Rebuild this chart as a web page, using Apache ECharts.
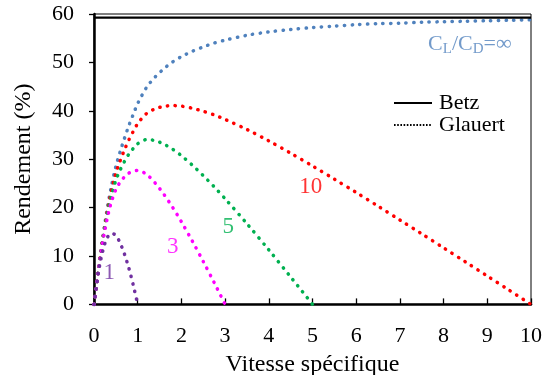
<!DOCTYPE html>
<html>
<head>
<meta charset="utf-8">
<script src="https://cdn.jsdelivr.net/npm/echarts@6/dist/echarts.min.js"></script>
<style>html,body{margin:0;padding:0;background:#fff;}#c{width:545px;height:375px;}</style>
</head>
<body>
<div id="c"></div>
<script>
// Tip speed ratio (x)
var lambda = [0, 0.05, 0.1, 0.15, 0.2, 0.25, 0.3, 0.35, 0.4, 0.5, 0.6, 0.7, 0.8, 0.9, 1.0, 1.2, 1.4, 1.6, 1.8, 2.0, 2.25, 2.5, 2.75, 3.0, 3.5, 4.0, 4.5, 5.0, 5.5, 6.0, 6.5, 7.0, 7.5, 8.0, 8.5, 9.0, 9.5, 10];
// Glauert efficiency (%) for each CL/CD
var glauertInf = [0, 3.5, 7.2, 10.6, 13.8, 16.8, 19.6, 22.2, 24.5, 28.5, 31.6, 34.4, 37.0, 39.3, 41.5, 44.8, 47.0, 48.7, 50.1, 51.2, 52.3, 53.2, 54.0, 54.6, 55.6, 56.3, 56.8, 57.2, 57.5, 57.8, 58.0, 58.1, 58.3, 58.4, 58.5, 58.6, 58.7, 58.8];
var glauert10 = [0, 3.48, 7.13, 10.44, 13.52, 16.38, 19.01, 21.42, 23.52, 27.08, 29.7, 31.99, 34.04, 35.76, 37.35, 39.42, 40.42, 40.91, 41.08, 40.96, 40.53, 39.9, 39.15, 38.22, 36.14, 33.78, 31.24, 28.6, 25.88, 23.12, 20.3, 17.43, 14.58, 11.68, 8.78, 5.86, 2.94, 0];
var glauert5 = [0, 3.47, 7.06, 10.28, 13.25, 15.96, 18.42, 20.65, 22.54, 25.65, 27.81, 29.58, 31.08, 32.23, 33.2, 34.05, 33.84, 33.12, 32.06, 30.72, 28.77, 26.6, 24.3, 21.84, 16.68, 11.26, 5.68, 0];
var glauert3 = [0, 3.44, 6.96, 10.07, 12.88, 15.4, 17.64, 19.61, 21.23, 23.75, 25.28, 26.37, 27.13, 27.51, 27.67, 26.88, 25.07, 22.73, 20.04, 17.07, 13.08, 8.87, 4.5, 0];
var glauert1 = [0, 3.33, 6.48, 9.01, 11.04, 12.6, 13.72, 14.43, 14.7, 14.25, 12.64, 10.32, 7.4, 3.93, 0];
// Betz limit (%)
var betzX = [0, 10];
var betzValue = 59.26;
// Axis ticks
var xTicks = [0, 1, 2, 3, 4, 5, 6, 7, 8, 9, 10];
var yTicks = [0, 10, 20, 30, 40, 50, 60];
// Curve labels
var labelX = [0.35, 1.8, 3.07, 4.96];
var labelY = [6.5, 11.9, 15.9, 24.3];
var labelText = ['1', '3', '5', '10'];
var infLabel = {x: 8.6, y: 53.8};

function pairs(xs, ys) { var r = []; for (var i = 0; i < ys.length; i++) r.push([xs[i], ys[i]]); return r; }

var SERIF = '"Liberation Serif","Times New Roman",serif';
var dotStyle = function (c) { return {color: c, width: 3.5, type: [0.3, 7.4], cap: 'round'}; };
var colors = {inf: '#4F81BD', c10: '#FF0000', c5: '#00B050', c3: '#FF00FF', c1: '#7030A0'};
var labelColors = [colors.c1, colors.c3, colors.c5, colors.c10];

function curve(name, ys, c) {
  return {name: name, type: 'line', data: pairs(lambda, ys), showSymbol: false, symbol: 'none', smooth: 0.3,
    lineStyle: dotStyle(c), itemStyle: {color: c}, silent: true, z: 3};
}

var labelData = labelText.map(function (t, i) {
  return {value: [labelX[i], labelY[i]], label: {show: true, formatter: t, color: labelColors[i], fontFamily: SERIF, fontSize: 23, position: 'inside'}};
});
labelData.push({value: [infLabel.x, infLabel.y], label: {show: true, position: 'inside',
  formatter: 'C{s|L}/C{s|D}=∞', color: colors.inf, fontFamily: SERIF, fontSize: 22,
  rich: {s: {fontSize: 15, color: colors.inf, fontFamily: SERIF, padding: [11, 0, 0, 0]}}}});

var chart = echarts.init(document.getElementById('c'), null, {renderer: 'canvas'});
chart.setOption({
  animation: false,
  backgroundColor: '#fff',
  grid: {left: 94, right: 14, top: 14, bottom: 70.6, show: true, borderColor: '#000', borderWidth: 1,
    containLabel: false, outerBoundsMode: 'none'},
  legend: {
    data: ['Betz', 'Glauert'], orient: 'vertical', left: 388, top: 87, itemWidth: 38, itemHeight: 12, itemGap: 0,
    itemStyle: {opacity: 0, color: 'transparent', borderWidth: 0},
    textStyle: {fontFamily: SERIF, fontSize: 22, color: '#000', lineHeight: 21, padding: [0, 0, 0, 2]}
  },
  xAxis: {
    type: 'value', min: xTicks[0], max: xTicks[xTicks.length - 1], interval: 1,
    name: 'Vitesse spécifique', nameLocation: 'middle', nameGap: 37,
    nameTextStyle: {fontFamily: SERIF, fontSize: 24, color: '#000'},
    axisLine: {lineStyle: {color: '#000', width: 2.5}},
    axisTick: {inside: true, length: 6, lineStyle: {color: '#000', width: 1.3}},
    axisLabel: {fontFamily: SERIF, fontSize: 22, color: '#000', margin: 21},
    splitLine: {show: false}
  },
  yAxis: {
    type: 'value', min: yTicks[0], max: yTicks[yTicks.length - 1], interval: 10,
    name: 'Rendement (%)', nameLocation: 'middle', nameGap: 58, nameRotate: 90,
    nameTextStyle: {fontFamily: SERIF, fontSize: 24, color: '#000'},
    axisLine: {lineStyle: {color: '#000', width: 2.5}},
    axisTick: {inside: false, length: 5, lineStyle: {color: '#000', width: 1.3}},
    axisLabel: {fontFamily: SERIF, fontSize: 22, color: '#000', margin: 20},
    splitLine: {show: false}
  },
  series: [
    {name: 'Betz', type: 'line', data: betzX.map(function (x) { return [x, betzValue]; }), symbol: 'none',
      lineStyle: {color: '#000', width: 2.2}, itemStyle: {color: '#000'}, z: 4, silent: true},
    {name: 'Glauert', type: 'line', data: [], symbol: 'none',
      lineStyle: {color: '#000', width: 1.6, type: [1.6, 1.6]}, itemStyle: {color: '#000'}},
    curve('inf', glauertInf, colors.inf),
    curve('10', glauert10, colors.c10),
    curve('5', glauert5, colors.c5),
    curve('3', glauert3, colors.c3),
    curve('1', glauert1, colors.c1),
    {name: 'labels', type: 'scatter', symbolSize: 0, data: labelData, silent: true, z: 5}
  ]
});
</script>
</body>
</html>
